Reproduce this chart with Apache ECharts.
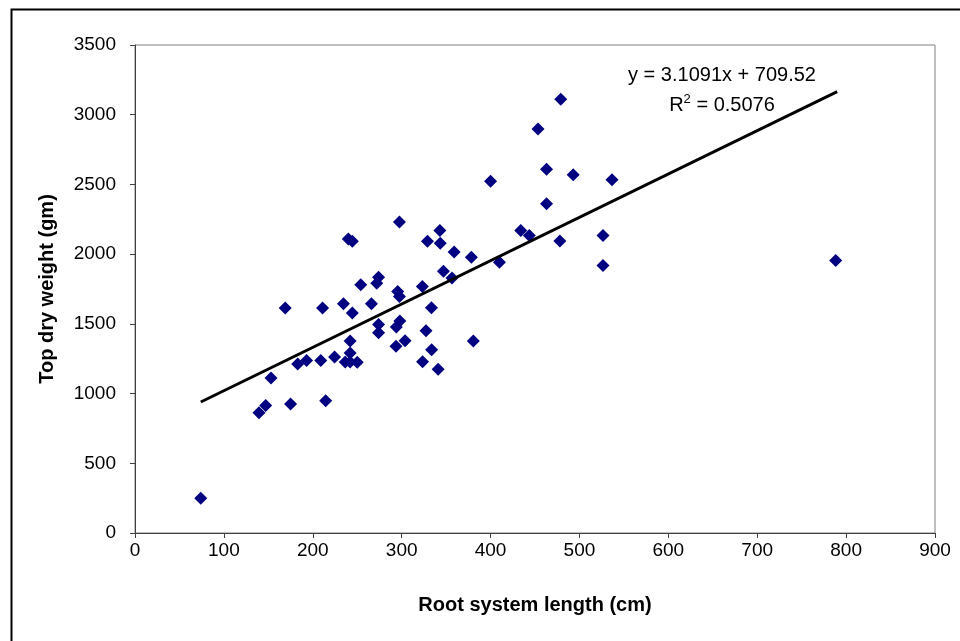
<!DOCTYPE html>
<html>
<head>
<meta charset="utf-8">
<script src="https://cdn.jsdelivr.net/npm/echarts@6/dist/echarts.min.js"></script>
<style>html,body{margin:0;padding:0;background:#fff}#c{width:960px;height:641px}</style>
</head>
<body>
<div id="c"></div>
<script>
var xTicks = [0, 100, 200, 300, 400, 500, 600, 700, 800, 900];
var yTicks = [0, 500, 1000, 1500, 2000, 2500, 3000, 3500];
var rootLength = [74, 139.5, 147, 153, 169, 175, 183, 193, 209, 211, 214.5, 224.5, 234.5, 236.5, 240, 242, 242, 242, 244.5, 244.5, 250, 254, 266, 272, 274, 274, 274, 293.6, 294, 295.5, 297.5, 297.5, 298, 303.8, 323.3, 323.5, 327.4, 329, 333.5, 333.7, 341, 343, 343.4, 347, 356.6, 359, 378.4, 380.6, 400, 410, 434, 443.6, 453.4, 463, 463, 478, 479, 493, 526.5, 526.5, 536.6, 788.3];
var topDryWeight = [250, 862, 914, 1112, 1613, 926, 1212, 1237, 1238, 1613, 948, 1262, 1645, 1226, 2108, 1226, 1377, 1291, 2093, 1577, 1224, 1780, 1644, 1792, 1835, 1495, 1436, 1339, 1477, 1732, 2230, 1696, 1520, 1378, 1768, 1229, 1451, 2093, 1615, 1314, 1174, 2169, 2078, 1877, 1829, 2016, 1978, 1377, 2522, 1942, 2169, 2133, 2897, 2608, 2362, 2095, 3111, 2570, 2133, 1918, 2534, 1954];
var slope = 3.1091, intercept = 709.52, r2 = 0.5076;
var trendX = [74, 790];

var pts = rootLength.map(function (x, i) { return [x, topDryWeight[i]]; });
var trend = trendX.map(function (x) { return [x, slope * x + intercept]; });
var FONT = '"Liberation Sans", Arial, sans-serif';

var chart = echarts.init(document.getElementById('c'));
chart.setOption({
  backgroundColor: '#fff',
  animation: false,
  grid: { left: 135, right: 25, top: 45, bottom: 108, show: true, borderColor: '#808080', borderWidth: 1 },
  xAxis: {
    type: 'value', min: xTicks[0], max: xTicks[xTicks.length - 1], interval: 100,
    name: 'Root system length (cm)', nameLocation: 'middle', nameGap: 62,
    nameTextStyle: { fontFamily: FONT, fontSize: 20, fontWeight: 'bold', color: '#000' },
    axisLine: { lineStyle: { color: '#404040', width: 1 } },
    axisTick: { show: true, length: 5, lineStyle: { color: '#404040' } },
    axisLabel: { fontFamily: FONT, fontSize: 19, color: '#000', margin: 8, formatter: function (v) { return String(v); } },
    splitLine: { show: false }
  },
  yAxis: {
    type: 'value', min: yTicks[0], max: yTicks[yTicks.length - 1], interval: 500,
    name: 'Top dry weight (gm)', nameLocation: 'middle', nameGap: 78,
    nameTextStyle: { fontFamily: FONT, fontSize: 20, fontWeight: 'bold', color: '#000' },
    axisLine: { show: true, lineStyle: { color: '#404040', width: 1 } },
    axisTick: { show: true, length: 5, lineStyle: { color: '#404040' } },
    axisLabel: { fontFamily: FONT, fontSize: 19, color: '#000', margin: 19, formatter: function (v) { return String(v); } },
    splitLine: { show: false }
  },
  series: [
    {
      type: 'scatter', data: pts, symbol: 'diamond', symbolSize: 13,
      itemStyle: { color: '#000080', opacity: 1 }, z: 3
    },
    {
      type: 'line', data: trend, symbol: 'none', lineStyle: { color: '#000', width: 3 }, z: 4
    }
  ],
  graphic: [
    { type: 'rect', left: 9, top: 7, shape: { width: 1000, height: 700 }, style: { fill: 'none', stroke: '#000', lineWidth: 2 }, z: 100, silent: true },
    { type: 'text', x: 722, y: 75, style: { text: 'y = 3.1091x + 709.52', font: '20px ' + FONT, fill: '#000', align: 'center', verticalAlign: 'middle' }, z: 101 },
    { type: 'text', x: 722, y: 104, style: {
        text: '{b|R}{s|2}{b| = 0.5076}', align: 'center', verticalAlign: 'middle', fill: '#000',
        rich: {
          b: { fontFamily: FONT, fontSize: 20, fill: '#000', lineHeight: 22, verticalAlign: 'bottom' },
          s: { fontFamily: FONT, fontSize: 13, fill: '#000', lineHeight: 22, verticalAlign: 'top', padding: [0, 0, 10, 0] }
        } }, z: 101 }
  ]
});
</script>
</body>
</html>
